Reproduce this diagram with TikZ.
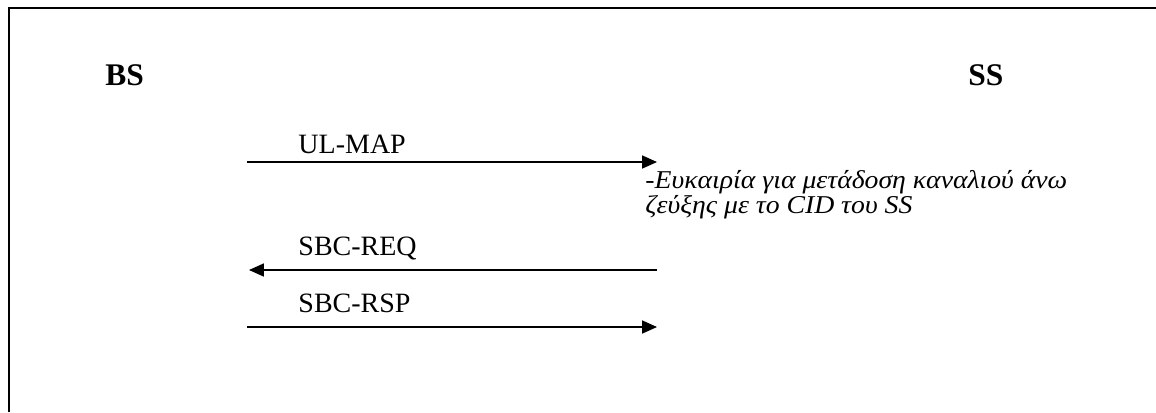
\documentclass[tikz,border=0pt]{standalone}
\usepackage{fontspec}
\setmainfont{Liberation Serif}
\newfontfamily\notefont[FakeStretch=1.08]{Liberation Serif}
\usetikzlibrary{arrows.meta,positioning}
\newcommand{\tightlines}{\lineskiplimit=-20pt\relax}

\begin{document}
\begin{tikzpicture}[x=0.4286pt, y=-0.4286pt,
      ent/.style={inner sep=0pt, anchor=base west, font=\fontsize{13.5}{16}\selectfont\bfseries},
      msg/.style={inner sep=0pt, anchor=base west, font=\fontsize{12}{14}\selectfont},
      note/.style={inner sep=0pt, anchor=base west, align=left,
                   font=\notefont\fontsize{11}{10.5}\selectfont\itshape\tightlines},
      arr/.style={-{Triangle[length=6.4pt, width=5.6pt]}, line width=0.6pt}]
    \useasboundingbox (0,0) rectangle (1156,412);
    % frame (only left and top edges are visible)
    \draw[line width=1pt] (9,412) -- (9,8) -- (1160,8);
    \node[ent] (bs) at (105,85) {BS};
    \node[ent] (ss) at (968,85) {SS};
    % message ends
    \coordinate (m1l) at (247,162); \coordinate (m1r) at (657,162);
    \coordinate (m2l) at (249,270); \coordinate (m2r) at (657,270);
    \coordinate (m3l) at (247,327); \coordinate (m3r) at (657,327);
    \draw[arr] (m1l) -- (m1r);
    \draw[arr] (m2r) -- (m2l);
    \draw[arr] (m3l) -- (m3r);
    \node[msg] (ulmap) at (298,153) {UL-MAP};
    \node[msg] (sbcreq) at (298,255) {SBC-REQ};
    \node[msg] (sbcrsp) at (298,312) {SBC-RSP};
    % base anchor sits on the last line
    \node[note] (opp) at (645,213.3) {-Ευκαιρία για μετάδοση καναλιού άνω\\ζεύξης με το CID του SS};
  \end{tikzpicture}
\end{document}
